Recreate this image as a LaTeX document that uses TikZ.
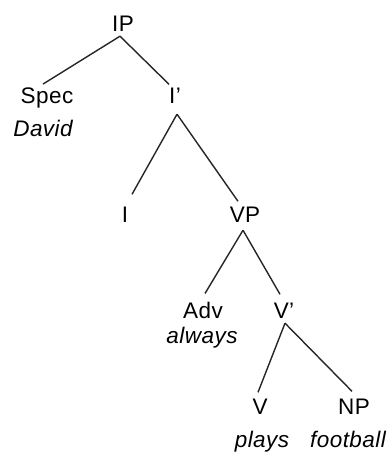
\documentclass[tikz,border=0pt]{standalone}
\usepackage{fontspec}
\setmainfont{Liberation Sans}[LetterSpace=2]
\begin{document}
\begin{tikzpicture}[x=1pt,y=-1pt,
  lab/.style={anchor=base,inner sep=0pt,font=\fontsize{22.5}{26}\selectfont},
  word/.style={anchor=base,inner sep=0pt,font=\fontsize{22.5}{26}\selectfont\itshape},
  edge/.style={line width=1.4pt,draw=black!85}]
\useasboundingbox[fill=white] (0,0) rectangle (390,454);
\node[lab] (IP) at (123,32) {IP};
\node[lab] (Spec) at (47,104) {Spec};
\node[word] (David) at (43,137) {David};
\node[lab] (Ibar) at (175,104) {I’};
\node[lab] (I) at (125,222) {I};
\node[lab] (VP) at (245,222) {VP};
\node[lab] (Adv) at (203,318) {Adv};
\node[word] (always) at (202,343) {always};
\node[lab] (Vbar) at (284,318) {V’};
\node[lab] (V) at (260,414) {V};
\node[lab] (NP) at (354,414) {NP};
\node[word] (plays) at (262,447) {plays};
\node[word] (football) at (348,447) {football};
\draw[edge] ([xshift=-3pt,yshift=-4pt]IP.south) -- ([xshift=-4pt,yshift=4pt]Spec.north);
\draw[edge] ([xshift=-3pt,yshift=-4pt]IP.south) -- ([xshift=-6pt,yshift=4pt]Ibar.north);
\draw[edge] ([xshift=2pt,yshift=-10pt]Ibar.south) -- ([xshift=7pt,yshift=12pt]I.north);
\draw[edge] ([xshift=2pt,yshift=-10pt]Ibar.south) -- ([xshift=-7pt,yshift=5pt]VP.north);
\draw[edge] ([xshift=-2pt,yshift=-8pt]VP.south) -- ([xshift=2pt,yshift=8pt]Adv.north);
\draw[edge] ([xshift=-2pt,yshift=-8pt]VP.south) -- ([xshift=-4pt,yshift=8pt]Vbar.north);
\draw[edge] ([xshift=1pt,yshift=-5pt]Vbar.south) -- ([xshift=-2pt,yshift=6pt]V.north);
\draw[edge] ([xshift=1pt,yshift=-5pt]Vbar.south) -- ([xshift=-2pt,yshift=7pt]NP.north);
\end{tikzpicture}
\end{document}
